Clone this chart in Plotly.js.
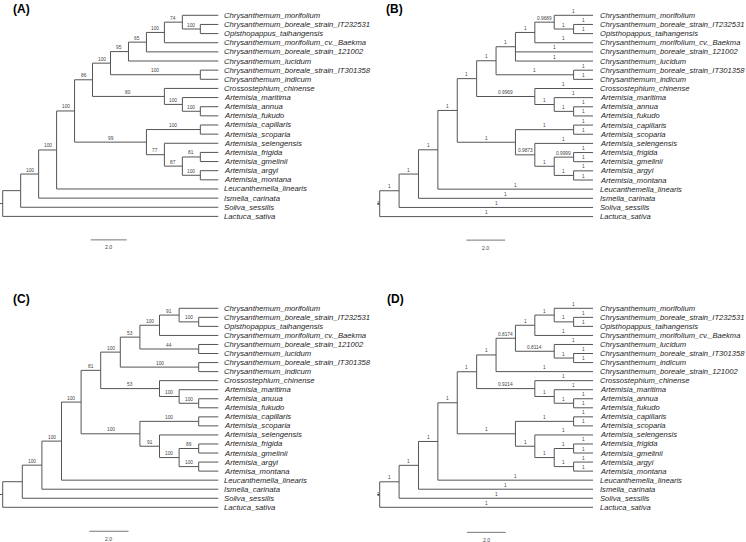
<!DOCTYPE html>
<html><head><meta charset="utf-8">
<script src="https://cdn.plot.ly/plotly-3.0.1.min.js"></script>
<style>html,body{margin:0;padding:0;background:#fff}#chart{width:746px;height:542px}</style>
</head><body><div id="chart"></div>
<script>
// ---------- DATA ----------
const tipsA = ["Chrysanthemum_morifolium","Chrysanthemum_boreale_strain_IT232531","Opisthopappus_taihangensis",
  "Chrysanthemum_morifolium_cv._Baekma","Chrysanthemum_boreale_strain_121002","Chrysanthemum_lucidum",
  "Chrysanthemum_boreale_strain_IT301358","Chrysanthemum_indicum","Crossostephium_chinense","Artemisia_maritima",
  "Artemisia_annua","Artemisia_fukudo","Artemisia_capillaris","Artemisia_scoparia","Artemisia_selengensis",
  "Artemisia_frigida","Artemisia_gmelinii","Artemisia_argyi","Artemisia_montana","Leucanthemella_linearis",
  "Ismelia_carinata","Soliva_sessilis","Lactuca_sativa"];
const tipsB = tipsA.slice();
const tipsC = ["Chrysanthemum_morifolium","Chrysanthemum_boreale_strain_IT232531","Opisthopappus_taihangensis",
  "Chrysanthemum_morifolium_cv._Baekma","Chrysanthemum_boreale_strain_121002","Chrysanthemum_lucidum",
  "Chrysanthemum_boreale_strain_IT301358","Chrysanthemum_indicum","Crossostephium_chinense","Artemisia_maritima",
  "Artemisia_anuua","Artemisia_fukudo","Artemisia_capillaris","Artemisia_scoparia","Artemisia_selengensis",
  "Artemisia_frigida","Artemisia_gmelinii","Artemisia_argyi","Artemisa_montana","Leucanthemella_linearis",
  "Ismelia_carinata","Soliva_sessilis","Lactuca_sativa"];
const tipsD = ["Chrysanthemum_morifolium","Chrysanthemum_boreale_strain_IT232531","Opisthopappus_taihangensis",
  "Chrysanthemum_morifolium_cv._Baekma","Chrysanthemum_lucidum","Chrysanthemum_boreale_strain_IT301358",
  "Chrysanthemum_indicum","Chrysanthemum_boreale_strain_121002","Crossostephium_chinense","Artemisia_maritima",
  "Artemisia_annua","Artemisia_fukudo","Artemisia_capillaris","Artemisia_scoparia","Artemisia_selengensis",
  "Artemisia_frigida","Artemisia_gmelinii","Artemisia_argyi","Artemisia_montana","Leucanthemella_linearis",
  "Ismelia_carinata","Soliva_sessilis","Lactuca_sativa"];

// Trees (Newick, tip = row index in the tip list, ":value" = support)
const treeA = "(((((((((((0,(1,2):100):74,3):100,4):65,5):95,(6,7):100):100,(8,(9,(10,11):100):100):80):86,((12,13):100,(14,((15,16):81,(17,18):100):87):77):99):100,19):100,20):100,21),22)";
const treeB = "((((((((((0:1,(1:1,2:1):1):0.9689,3:1):1,4:1,5:1):1,(6:1,7:1):1):1,(8:1,(9:1,(10:1,11:1):1):1):0.9969):1,((12:1,13:1):1,(14:1,((15:1,16:1):0.9999,(17:1,18:1):1):1):0.9873):1):1,19:1):1,20:1):1,21:1):1,22:1):1";
const treeC = "((((((((((0,(1,2):100):91,3):100,(4,5):44):53,(6,7):100):100,(8,(9,(10,11):100):100):53):81,((12,13):100,(14,((15,16):89,(17,18):100):100):91):100):100,19):100,20):100,21),22)";
const treeD = "((((((((((0:1,(1:1,2:1):1):1,3:1):1,(4:1,(5:1,6:1):1):0.8114):0.8174,7:1):1,(8:1,(9:1,(10:1,11:1):1):1):0.9214):1,((12:1,13:1):1,(14:1,((15:1,16:1):1,(17:1,18:1):1):1):1):1):1,19:1):1,20:1):1,21:1):1,22:1):1";

const panelLabels = ["(A)","(B)","(C)","(D)"];
const scaleLength = 2.0;
const scaleLabel = "2.0";

// ---------- LAYOUT CONFIG (pixels relative to each panel) ----------
const PW = 373, PH = 271;
const panels = [
  {tips:tipsA, tree:treeA, ax:'', xdom:[0,0.5], ydom:[0.5,1], rootPx:2.7, tipPx:218.3, row0:15.3, rowN:216.4, gap:3.2, fs:7.7, scaleStart:4.9, scaleRow:24.57, lab:[11.7,8.8]},
  {tips:tipsB, tree:treeB, ax:'2', xdom:[0.5,1], ydom:[0.5,1], rootPx:6.7, tipPx:220.0, row0:15.3, rowN:216.6, gap:4.8, fs:7.6, scaleStart:4.47, scaleRow:24.57, lab:[384.7,8.8]},
  {tips:tipsC, tree:treeC, ax:'3', xdom:[0,0.5], ydom:[0,0.5], rootPx:2.7, tipPx:218.3, row0:37.3, rowN:236.3, gap:3.8, fs:7.7, scaleStart:4.42, scaleRow:24.65, lab:[11.7,298.5]},
  {tips:tipsD, tree:treeD, ax:'4', xdom:[0.5,1], ydom:[0,0.5], rootPx:6.7, tipPx:220.0, row0:37.3, rowN:236.3, gap:5.0, fs:7.6, scaleStart:4.5, scaleRow:24.77, lab:[386.3,298.5]}
];

const LINE = '#555555';
const FONT = 'Liberation Sans, Arial, Helvetica, sans-serif';

function parseNewick(s){
  let i = 0;
  function tok(stop){ const st=i; while(i<s.length && !stop.includes(s[i])) i++; return s.slice(st,i); }
  function node(){
    const n = {children:[]};
    if (s[i]==='('){ i++; n.children.push(node()); while(s[i]===','){ i++; n.children.push(node()); } i++; }
    else { n.tip = parseInt(tok(',():'),10); }
    if (s[i]===':'){ i++; n.sup = tok(',()'); }
    return n;
  }
  return node();
}
function setH(n){ n.h = n.children.length ? 1+Math.max(...n.children.map(setH)) : 0; return n.h; }
function setY(n){
  if (!n.children.length) n.y = n.tip;
  else { n.children.forEach(setY); n.y = (n.children[0].y + n.children[n.children.length-1].y)/2; }
}

const traces = [], annotations = [], layout = {
  width:746, height:542, margin:{l:0,r:0,t:0,b:0}, paper_bgcolor:'#fff', plot_bgcolor:'#fff',
  showlegend:false, annotations:annotations
};

panels.forEach((p, pi) => {
  const root = parseNewick(p.tree);
  const H = setH(root); setY(root);
  const n = p.tips.length;
  const dx = (p.tipPx - p.rootPx)/H;
  const dy = (p.rowN - p.row0)/(n-1);
  const xa = 'x'+p.ax, ya = 'y'+p.ax;
  layout['xaxis'+p.ax] = {domain:p.xdom, range:[-p.rootPx/dx, (PW-p.rootPx)/dx], visible:false, fixedrange:true, anchor:ya};
  layout['yaxis'+p.ax] = {domain:p.ydom, range:[(PH-p.row0)/dy, -p.row0/dy], visible:false, fixedrange:true, anchor:xa};

  const lx = [], ly = [];
  const stub = 2.7/dx;
  function walk(nd, parentX){
    const nx = H - nd.h;
    lx.push(parentX, nx, null); ly.push(nd.y, nd.y, null);
    if (nd.sup !== undefined && nd.sup !== ''){
      const isRoot = nd === root;
      annotations.push({xref:xa, yref:ya, x:(parentX+nx)/2, y:nd.y, text:nd.sup, showarrow:false,
        xanchor:'center', yanchor: isRoot ? 'middle' : 'bottom', yshift: isRoot ? 0 : -0.5,
        font:{family:FONT, size:4.8, color:'#444'}});
    }
    if (nd.children.length){
      lx.push(nx, nx, null);
      ly.push(nd.children[0].y, nd.children[nd.children.length-1].y, null);
      nd.children.forEach(c => walk(c, nx));
    } else {
      annotations.push({xref:xa, yref:ya, x:nx, y:nd.y, text:'<i>'+p.tips[nd.tip]+'</i>', showarrow:false,
        xanchor:'left', yanchor:'middle', xshift:p.gap, font:{family:FONT, size:p.fs, color:'#1e1e1e'}});
    }
  }
  walk(root, -stub);
  traces.push({type:'scatter', mode:'lines', x:lx, y:ly, xaxis:xa, yaxis:ya, hoverinfo:'skip',
    line:{color:LINE, width:1}, connectgaps:false});
  // scale bar
  traces.push({type:'scatter', mode:'lines', x:[p.scaleStart, p.scaleStart+scaleLength], y:[p.scaleRow, p.scaleRow],
    xaxis:xa, yaxis:ya, hoverinfo:'skip', line:{color:'#777', width:1}});
  annotations.push({xref:xa, yref:ya, x:p.scaleStart+scaleLength/2, y:p.scaleRow, text:scaleLabel, showarrow:false,
    xanchor:'center', yanchor:'top', yshift:-2.5, font:{family:FONT, size:5.2, color:'#444'}});
  // panel letter
  annotations.push({xref:'paper', yref:'paper', x:p.lab[0]/746, y:1-p.lab[1]/542, text:'<b>'+panelLabels[pi]+'</b>',
    showarrow:false, xanchor:'left', yanchor:'middle', xshift:-1, font:{family:FONT, size:12, color:'#000'}});
});

Plotly.newPlot('chart', traces, layout, {displayModeBar:false, staticPlot:true});
</script></body></html>
